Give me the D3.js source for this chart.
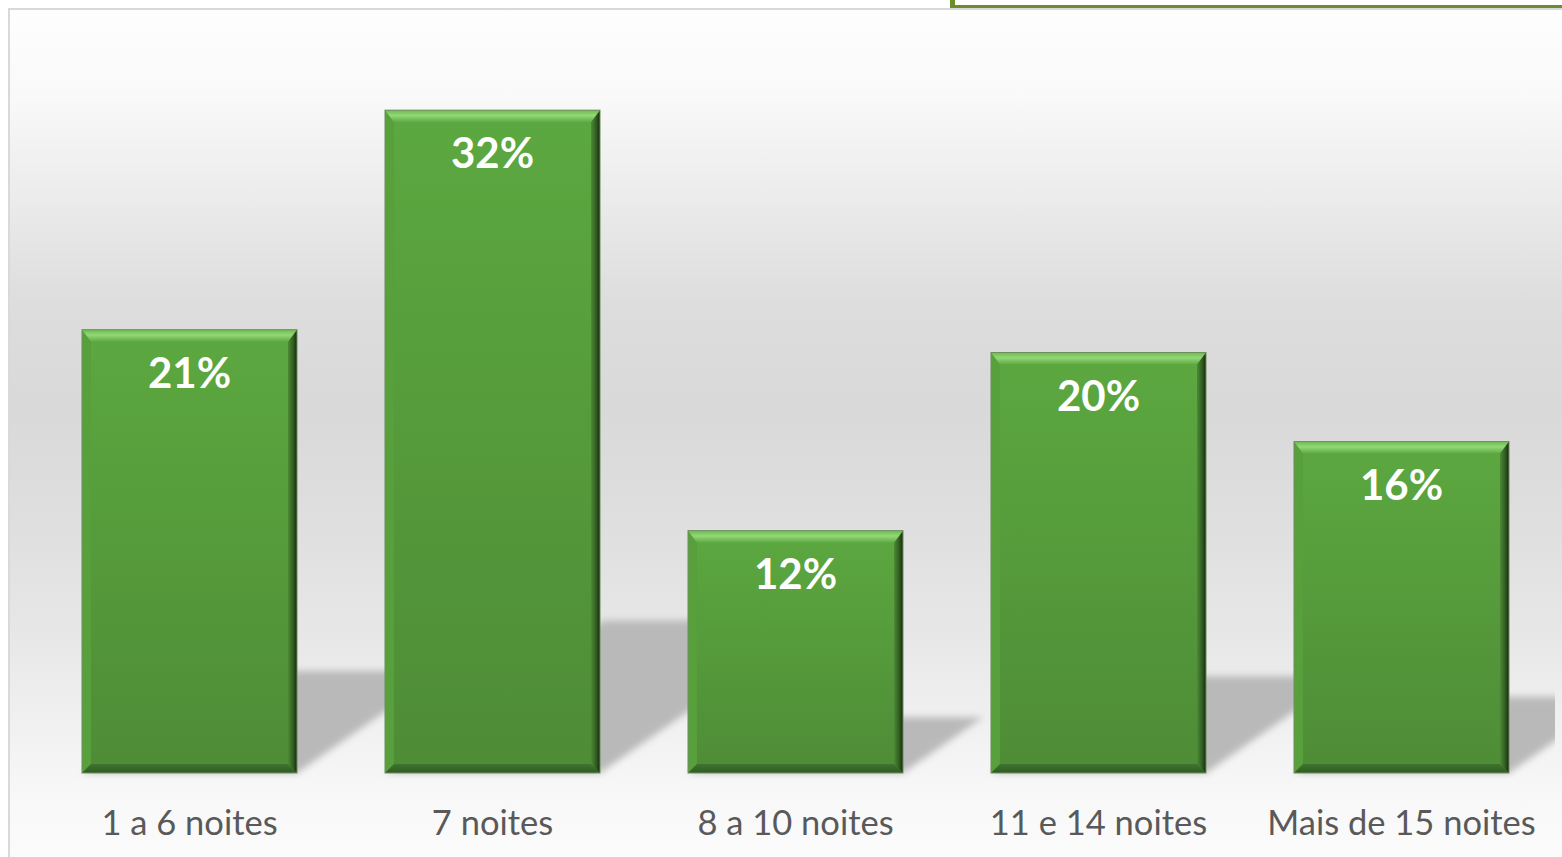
<!DOCTYPE html>
<html>
<head>
<meta charset="utf-8">
<script src="https://cdn.jsdelivr.net/npm/d3@7"></script>
<style>
  html, body { margin: 0; padding: 0; background: #ffffff; }
  svg { display: block; }
</style>
</head>
<body>
<div id="chart"></div>
<script>
// data (percent)
var categories = ["1 a 6 noites", "7 noites", "8 a 10 noites", "11 e 14 noites", "Mais de 15 noites"];
var values = [21.4, 32.0, 11.7, 20.3, 16.0];
var valueLabels = ["21%", "32%", "12%", "20%", "16%"];

(function() {
    var width = 1562, height = 857;
    var svg = d3.select('#chart').append('svg')
        .attr('width', width)
        .attr('height', height);

    var defs = svg.append('defs');

    // chart area background, white -> gray -> white
    var bg = defs.append('linearGradient').attr('id', 'bgGrad')
        .attr('x1', 0).attr('y1', 0).attr('x2', 0).attr('y2', 1);
    [[0, '#fefefe'], [0.1, '#f9f9f9'], [0.22, '#ebebeb'], [0.34, '#dddddd'],
     [0.46, '#d9d9d9'], [0.58, '#dedede'], [0.72, '#e7e7e7'], [0.82, '#f0f0f0'],
     [0.91, '#f8f8f8'], [1, '#fcfcfc']].forEach(function(s) {
        bg.append('stop').attr('offset', s[0]).attr('stop-color', s[1]);
    });

    var barGrad = defs.append('linearGradient').attr('id', 'barGrad')
        .attr('x1', 0).attr('y1', 0).attr('x2', 0).attr('y2', 1);
    barGrad.append('stop').attr('offset', 0).attr('stop-color', '#5ca840');
    barGrad.append('stop').attr('offset', 1).attr('stop-color', '#4e8c36');

    var topBevel = defs.append('linearGradient').attr('id', 'topBevel')
        .attr('x1', 0).attr('y1', 0).attr('x2', 0).attr('y2', 1);
    topBevel.append('stop').attr('offset', 0).attr('stop-color', '#6cbc4f');
    topBevel.append('stop').attr('offset', 0.45).attr('stop-color', '#93d877');
    topBevel.append('stop').attr('offset', 1).attr('stop-color', '#5ea942');

    var rightBevel = defs.append('linearGradient').attr('id', 'rightBevel')
        .attr('x1', 0).attr('y1', 0).attr('x2', 1).attr('y2', 0);
    rightBevel.append('stop').attr('offset', 0).attr('stop-color', '#4d8a35');
    rightBevel.append('stop').attr('offset', 0.6).attr('stop-color', '#2f5a20');
    rightBevel.append('stop').attr('offset', 1).attr('stop-color', '#142a0c');

    var bottomBevel = defs.append('linearGradient').attr('id', 'bottomBevel')
        .attr('x1', 0).attr('y1', 0).attr('x2', 0).attr('y2', 1);
    bottomBevel.append('stop').attr('offset', 0).attr('stop-color', '#3f7430');
    bottomBevel.append('stop').attr('offset', 1).attr('stop-color', '#2f5a22');

    var blur = defs.append('filter').attr('id', 'shadowBlur')
        .attr('x', '-20%').attr('y', '-20%').attr('width', '140%').attr('height', '140%');
    blur.append('feGaussianBlur').attr('stdDeviation', 3.5);

    defs.append('clipPath').attr('id', 'plotClip')
        .append('rect').attr('x', 10).attr('y', 10).attr('width', 1545).attr('height', 770);

    // chart frame
    svg.append('rect')
        .attr('x', 9).attr('y', 9)
        .attr('width', width + 10).attr('height', height + 10)
        .style('fill', 'url(#bgGrad)')
        .style('stroke', '#d9d9d9')
        .style('stroke-width', 2);

    // green text box edge at the top right
    svg.append('rect')
        .attr('x', 950).attr('y', 0).attr('width', 5).attr('height', 8)
        .style('fill', '#6a8e2e');
    svg.append('rect')
        .attr('x', 950).attr('y', 5).attr('width', 612).attr('height', 3)
        .style('fill', '#6a8e2e');

    var x = d3.scaleBand()
        .domain(categories)
        .range([38, 1553])
        .paddingInner(0.2904)
        .paddingOuter(0.1452);

    var y = d3.scaleLinear()
        .domain([0, 35])
        .range([773, 48]);

    var data = categories.map(function(c, i) {
        return { cat: c, value: values[i], label: valueLabels[i] };
    });

    // perspective shadows, up and to the right
    var base = y(0);
    svg.append('g').attr('clip-path', 'url(#plotClip)')
        .selectAll('polygon').data(data).enter().append('polygon')
        .attr('points', function(d) {
            var x0 = x(d.cat), x1 = x0 + x.bandwidth();
            var h = base - y(d.value);
            var dx = h * 0.33, dy = h * 0.23;
            return [[x0, base], [x1, base], [x1 + dx, base - dy], [x0 + dx, base - dy]]
                .map(function(p) { return p.join(','); }).join(' ');
        })
        .style('fill', '#b9b9b9')
        .style('filter', 'url(#shadowBlur)');

    var bev = 9;
    var bars = svg.append('g').selectAll('g').data(data).enter().append('g');

    bars.append('rect')
        .attr('x', function(d) { return x(d.cat); })
        .attr('y', function(d) { return y(d.value); })
        .attr('width', x.bandwidth())
        .attr('height', function(d) { return base - y(d.value); })
        .style('fill', 'url(#barGrad)');

    function poly(sel, fn, fill) {
        sel.append('polygon')
            .attr('points', function(d) {
                var x0 = x(d.cat), x1 = x0 + x.bandwidth(), t = y(d.value), b = base;
                return fn(x0, x1, t, b).map(function(p) { return p.join(','); }).join(' ');
            })
            .style('fill', fill);
    }
    // left bevel
    poly(bars, function(x0, x1, t, b) {
        return [[x0, t], [x0 + bev, t + bev], [x0 + bev, b - bev], [x0, b]];
    }, '#57a03c');
    // bottom bevel
    poly(bars, function(x0, x1, t, b) {
        return [[x0, b], [x0 + bev, b - bev], [x1 - bev, b - bev], [x1, b]];
    }, 'url(#bottomBevel)');
    // right bevel
    poly(bars, function(x0, x1, t, b) {
        return [[x1, t], [x1 - bev, t + bev], [x1 - bev, b - bev], [x1, b]];
    }, 'url(#rightBevel)');
    // top bevel
    poly(bars, function(x0, x1, t, b) {
        return [[x0, t], [x1, t], [x1 - bev, t + bev + 3], [x0 + bev, t + bev + 3]];
    }, 'url(#topBevel)');

    bars.append('rect')
        .attr('x', function(d) { return x(d.cat); })
        .attr('y', function(d) { return y(d.value); })
        .attr('width', x.bandwidth())
        .attr('height', function(d) { return base - y(d.value); })
        .style('fill', 'none')
        .style('stroke', '#6f8f60')
        .style('stroke-width', 1);

    // value labels inside bars
    bars.append('text')
        .attr('x', function(d) { return x(d.cat) + x.bandwidth() / 2; })
        .attr('y', function(d) { return y(d.value) + 58; })
        .attr('text-anchor', 'middle')
        .style('font-family', 'Lato, "Open Sans", sans-serif')
        .style('font-weight', 'bold')
        .style('font-size', '42px')
        .style('fill', '#ffffff')
        .text(function(d) { return d.label; });

    // category axis
    var axis = svg.append('g')
        .attr('transform', 'translate(0,' + base + ')')
        .call(d3.axisBottom(x).tickSize(0).tickPadding(0));
    axis.select('.domain').remove();
    axis.selectAll('text')
        .attr('dy', null)
        .attr('y', 62)
        .style('font-family', 'Lato, "Open Sans", sans-serif')
        .style('font-size', '34.5px')
        .style('fill', '#595959');
})();
</script>
</body>
</html>
